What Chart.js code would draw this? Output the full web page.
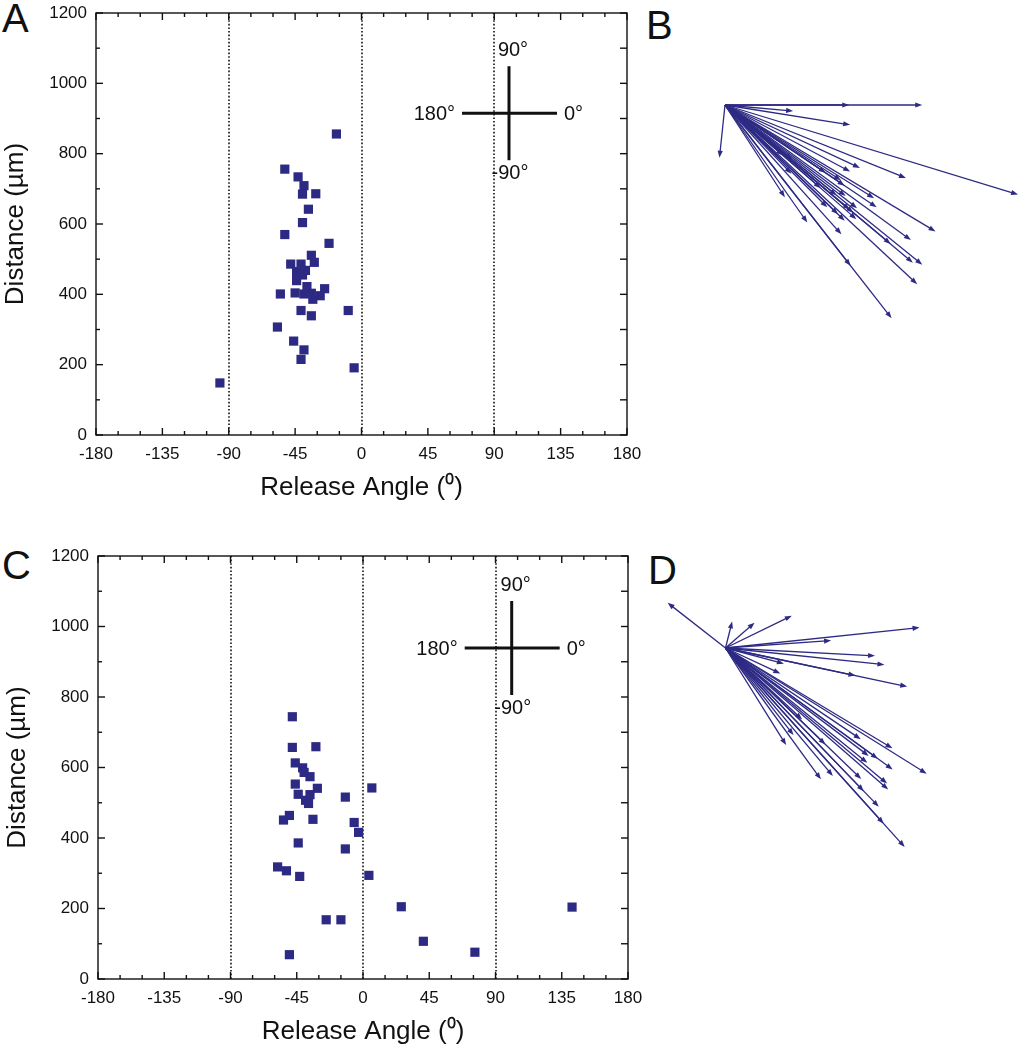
<!DOCTYPE html>
<html>
<head>
<meta charset="utf-8">
<script src="https://cdn.jsdelivr.net/npm/chart.js@4.4.0/dist/chart.umd.min.js"></script>
<style>
body { margin: 0; background: #fff; width: 1022px; height: 1050px; position: relative; overflow: hidden; font-family: "Liberation Sans", Arial, sans-serif; }
.letter { position: absolute; font-size: 40px; line-height: 1; color: #111; }
canvas { position: absolute; }
</style>
</head>
<body>
<div class="letter" style="left:2px;top:-2px">A</div>
<div class="letter" style="left:646px;top:5px">B</div>
<div class="letter" style="left:2px;top:545px">C</div>
<div class="letter" style="left:648px;top:550px">D</div>

<canvas id="chartA" width="660" height="510" style="left:0;top:0"></canvas>
<canvas id="chartC" width="659" height="511" style="left:2px;top:543px"></canvas>
<canvas id="chartB" width="382" height="320" style="left:640px;top:30px"></canvas>
<canvas id="chartD" width="382" height="300" style="left:640px;top:580px"></canvas>

<script>
// Datos: ángulo de liberación (grados) y distancia (µm)
const anglesA = [-96, -17, -52, -43, -39, -40, -31, -36, -40, -52, -22, -34, -32, -48, -41, -44, -40, -38,
                 -40, -44, -37, -25, -55, -45, -39, -34, -28, -33, -41, -9, -34, -57, -46, -39, -41, -5];
const distA = [148, 856, 756, 734, 709, 685, 686, 642, 604, 570, 545, 511, 491, 486, 486, 465, 468, 468,
               455, 439, 422, 416, 401, 404, 401, 403, 396, 386, 354, 354, 339, 307, 267, 242, 215, 191];

const anglesC = [-48, -48, -32, -46, -41, -40, -36, -46, -31, 6, -44, -36, -39, -37, -12, -50, -54,
                 -34, -6, -3, -44, -12, -58, -52, -43, 4, 26, -25, -15, -50, 41, 76, 142];
const distC = [744, 657, 659, 613, 599, 586, 574, 553, 541, 542, 524, 523, 507, 498, 516, 464, 451,
               453, 444, 416, 386, 369, 318, 307, 291, 294, 205, 168, 168, 69, 107, 76, 204];

// Flechas que aparecen solo en el panel B
const extraAnglesB = [0, 0];
const extraDistB = [551, 347];

// Marcas de los ejes
const angleTicks = [-180, -135, -90, -45, 0, 45, 90, 135, 180];
const distTicks = [0, 200, 400, 600, 800, 1000, 1200];
const dottedAngles = [-90, 0, 90];
const insetLabels = ['90°', '180°', '0°', '-90°'];

const markColor = '#2d2a84';
const inkColor = '#111';

Chart.defaults.font.family = '"Liberation Sans", Arial, sans-serif';
Chart.defaults.color = inkColor;

// Marco con marcas hacia dentro, líneas punteadas y la cruz de referencia
const framePlugin = {
    id: 'frame',
    beforeDatasetsDraw(chart, args, opts) {
        const { ctx, chartArea: a, scales: { x, y } } = chart;
        const line = (x1, y1, x2, y2) => { ctx.beginPath(); ctx.moveTo(x1, y1); ctx.lineTo(x2, y2); ctx.stroke(); };
        ctx.save();
        ctx.strokeStyle = inkColor;

        ctx.lineWidth = 1.6;
        ctx.setLineDash([1.6, 2]);
        dottedAngles.forEach(v => {
            const px = Math.round(x.getPixelForValue(v));
            line(px, a.top, px, a.bottom);
        });
        ctx.setLineDash([]);

        ctx.lineWidth = 1.4;
        ctx.strokeRect(a.left, a.top, a.right - a.left, a.bottom - a.top);
        for (let v = -180; v <= 180; v += 15) {
            const px = x.getPixelForValue(v);
            const len = v % 45 === 0 ? 7 : 4;
            line(px, a.bottom, px, a.bottom - len);
            line(px, a.top, px, a.top + len);
        }
        for (let v = 0; v <= 1200; v += 100) {
            const py = y.getPixelForValue(v);
            const len = v % 200 === 0 ? 7 : 4;
            line(a.left, py, a.left + len, py);
            line(a.right, py, a.right - 7, py);
        }

        // cruz
        const cx = x.getPixelForValue(opts.x);
        const cy = y.getPixelForValue(opts.y);
        ctx.lineWidth = 3;
        line(cx - 47, cy, cx + 48, cy);
        line(cx, cy - 47, cx, cy + 47);
        ctx.fillStyle = inkColor;
        ctx.font = '20px "Liberation Sans", Arial, sans-serif';
        ctx.textBaseline = 'middle';
        ctx.textAlign = 'center';
        ctx.fillText(insetLabels[0], cx + 4, cy - 63);
        ctx.fillText(insetLabels[3], cx + 1, cy + 60);
        ctx.textAlign = 'right';
        ctx.fillText(insetLabels[1], cx - 54, cy + 1);
        ctx.textAlign = 'left';
        ctx.fillText(insetLabels[2], cx + 55, cy + 1);
        ctx.restore();
    }
};

function scatterChart(id, angles, dists, cross) {
    const points = angles.map((a, i) => ({ x: a, y: dists[i] }));
    return new Chart(document.getElementById(id), {
        type: 'scatter',
        data: {
            datasets: [{
                data: points,
                pointStyle: 'rect',
                pointRadius: 6.5,
                backgroundColor: markColor,
                borderColor: markColor,
                borderWidth: 0
            }]
        },
        options: {
            responsive: false,
            animation: false,
            layout: { padding: { top: 13, right: 33, left: 0, bottom: 0 } },
            plugins: {
                legend: { display: false },
                tooltip: { enabled: false },
                frame: cross
            },
            scales: {
                x: {
                    type: 'linear', min: -180, max: 180,
                    afterBuildTicks: s => { s.ticks = angleTicks.map(v => ({ value: v })); },
                    ticks: { font: { size: 17 }, color: inkColor, padding: 9, maxRotation: 0, callback: v => String(v) },
                    grid: { display: false, drawTicks: false },
                    border: { display: false },
                    title: { display: true, text: 'Release Angle (⁰)', font: { size: 26 }, color: inkColor, padding: { top: 0, bottom: 7 } },
                    // altura fija y sin margen extra por las etiquetas
                    afterFit: s => { s.height = 75; s.paddingLeft = 0; s.paddingRight = 0; }
                },
                y: {
                    type: 'linear', min: 0, max: 1200,
                    afterBuildTicks: s => { s.ticks = distTicks.map(v => ({ value: v })); },
                    ticks: { font: { size: 17 }, color: inkColor, padding: 9, callback: v => String(v) },
                    grid: { display: false, drawTicks: false },
                    border: { display: false },
                    title: { display: true, text: 'Distance (µm)', font: { size: 26 }, color: inkColor, padding: { top: 0, bottom: 0 } },
                    afterFit: s => { s.width = 96; s.paddingTop = 0; s.paddingBottom = 0; }
                }
            }
        },
        plugins: [framePlugin]
    });
}

// Flechas desde el origen hasta (distancia, ángulo)
const arrowPlugin = {
    id: 'arrows',
    afterDatasetsDraw(chart) {
        const { ctx, scales: { x, y } } = chart;
        const ox = x.getPixelForValue(0);
        const oy = y.getPixelForValue(0);
        ctx.save();
        ctx.strokeStyle = markColor;
        ctx.fillStyle = markColor;
        ctx.lineWidth = 1.3;
        chart.getDatasetMeta(0).data.forEach(el => {
            const ang = Math.atan2(el.y - oy, el.x - ox);
            ctx.beginPath();
            ctx.moveTo(ox, oy);
            ctx.lineTo(el.x - 5 * Math.cos(ang), el.y - 5 * Math.sin(ang));
            ctx.stroke();
            ctx.beginPath();
            ctx.moveTo(el.x, el.y);
            ctx.lineTo(el.x - 7 * Math.cos(ang) + 2.6 * Math.sin(ang), el.y - 7 * Math.sin(ang) - 2.6 * Math.cos(ang));
            ctx.lineTo(el.x - 7 * Math.cos(ang) - 2.6 * Math.sin(ang), el.y - 7 * Math.sin(ang) + 2.6 * Math.cos(ang));
            ctx.closePath();
            ctx.fill();
        });
        ctx.restore();
    }
};

function arrowChart(id, angles, dists, pxPerUm, originX, originY) {
    const canvas = document.getElementById(id);
    const rad = Math.PI / 180;
    const tips = angles.map((a, i) => ({ x: dists[i] * Math.cos(a * rad), y: dists[i] * Math.sin(a * rad) }));
    return new Chart(canvas, {
        type: 'scatter',
        data: { datasets: [{ data: tips, pointRadius: 0 }] },
        options: {
            responsive: false,
            animation: false,
            layout: { padding: 0 },
            plugins: { legend: { display: false }, tooltip: { enabled: false } },
            scales: {
                x: { display: false, min: -originX / pxPerUm, max: (canvas.width - originX) / pxPerUm },
                y: { display: false, min: -(canvas.height - originY) / pxPerUm, max: originY / pxPerUm }
            }
        },
        plugins: [arrowPlugin]
    });
}

scatterChart('chartA', anglesA, distA, { x: 100, y: 915 });
scatterChart('chartC', anglesC, distC, { x: 101, y: 939 });
arrowChart('chartB', anglesA.concat(extraAnglesB), distA.concat(extraDistB), 0.358, 85, 75);
arrowChart('chartD', anglesC, distC, 0.36, 85.5, 68);
</script>
</body>
</html>
